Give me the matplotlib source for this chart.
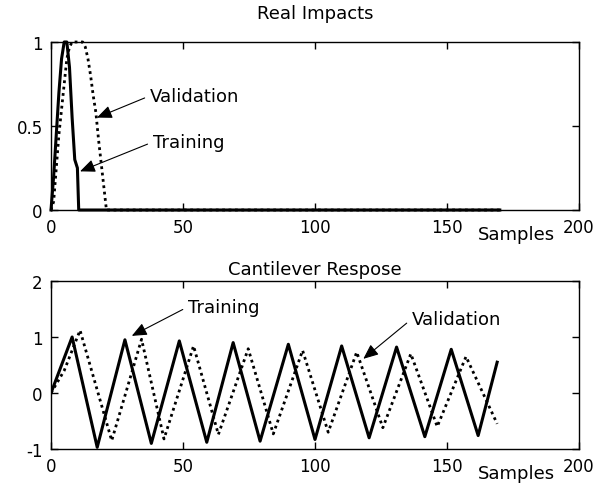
import matplotlib
matplotlib.use("Agg")
import matplotlib.pyplot as plt

plt.rcParams['font.family'] = ['DejaVu Sans']

# ---- Data ----
top_train_x = [0, 1, 2, 3, 4, 5, 6, 7, 8, 9, 10, 10.5, 170]
top_train_y = [0, 0.2, 0.45, 0.7, 0.9, 1.0, 1.0, 0.85, 0.55, 0.3, 0.25, 0, 0]

top_valid_x = [0, 1, 2, 3, 4, 5, 6, 7, 8, 12, 13, 14, 15, 16, 17, 18, 19, 20, 21, 170]
top_valid_y = [0, 0.05, 0.25, 0.45, 0.6, 0.75, 0.9, 0.97, 1.0, 1.0, 0.97, 0.9, 0.8,
               0.68, 0.58, 0.42, 0.28, 0.14, 0, 0]

bot_train_x = [0, 8, 17.5, 28, 38, 48.6, 59, 69, 79.2, 89.9, 100, 110.1, 120.5,
               130.9, 141.6, 151.6, 161.8, 169]
bot_train_y = [0, 1.0, -0.97, 0.95, -0.9, 0.93, -0.88, 0.9, -0.86, 0.87, -0.83, 0.84,
               -0.8, 0.82, -0.78, 0.78, -0.76, 0.55]

bot_valid_x = [0, 5, 11, 23, 34.3, 42.8, 54, 63.4, 74.7, 84.2, 95.3, 105, 115.8,
               125.7, 136.3, 146.3, 157.2, 169]
bot_valid_y = [0, 0.4, 1.12, -0.85, 0.96, -0.82, 0.84, -0.74, 0.79, -0.73, 0.76, -0.7,
               0.73, -0.62, 0.7, -0.6, 0.65, -0.55]

x_ticks = [0, 50, 100, 150, 200]
top_yticks = [0, 0.5, 1]
top_yticklabels = ['0', '0.5', '1']
bot_yticks = [-1, 0, 1, 2]
bot_yticklabels = ['-1', '0', '1', '2']

W, H = 599, 485
fig = plt.figure(figsize=(W / 100, H / 100), dpi=100)
fig.patch.set_facecolor('white')

def pos(l, t, r, b):
    return [l / W, 1 - b / H, (r - l) / W, (b - t) / H]

ax1 = fig.add_axes(pos(51, 43, 579, 211))
ax2 = fig.add_axes(pos(51, 282, 579, 450))

solid_kw = dict(color='black', lw=2.2, solid_joinstyle='round')
dot_kw = dict(color='black', lw=2.0, linestyle=(0, (1.0, 1.3)))

ax1.plot(top_valid_x, top_valid_y, clip_on=False, **dot_kw)
ax1.plot(top_train_x, top_train_y, clip_on=False, **solid_kw)
ax2.plot(bot_valid_x, bot_valid_y, **dot_kw)
ax2.plot(bot_train_x, bot_train_y, **solid_kw)

for ax in (ax1, ax2):
    ax.set_xlim(0, 200)
    ax.set_xticks(x_ticks)
    ax.set_xticklabels(['0', '50', '100', '150', '200'])
    ax.tick_params(direction='in', top=True, right=True, length=5, width=1,
                   labelsize=12, pad=6)
    for s in ax.spines.values():
        s.set_linewidth(1.0)
    ax.text(0.809, -0.145, 'Samples', transform=ax.transAxes, ha='left',
            va='center', fontsize=13)

ax1.set_ylim(0, 1)
ax1.set_yticks(top_yticks)
ax1.set_yticklabels(top_yticklabels)
ax2.set_ylim(-1, 2)
ax2.set_yticks(bot_yticks)
ax2.set_yticklabels(bot_yticklabels)

ax1.set_title('Real Impacts', fontsize=13, pad=17)
ax2.set_title('Cantilever Respose', fontsize=13, pad=5)

arrow = dict(arrowstyle='-|>,head_length=0.7,head_width=0.3', color='black',
             lw=0.8, relpos=(0, 0.5), shrinkA=2, shrinkB=0)

ax1.annotate('Validation', xy=(17.4, 0.55), xytext=(37.5, 0.68),
             fontsize=13, ha='left', va='center', arrowprops=arrow)
ax1.annotate('Training', xy=(11, 0.23), xytext=(38.6, 0.405),
             fontsize=13, ha='left', va='center', arrowprops=arrow)
ax2.annotate('Training', xy=(30.6, 1.02), xytext=(51.9, 1.54),
             fontsize=13, ha='left', va='center', arrowprops=arrow)
ax2.annotate('Validation', xy=(118.3, 0.61), xytext=(136.6, 1.32),
             fontsize=13, ha='left', va='center', arrowprops=arrow)

fig.savefig('out.png', dpi=100, facecolor='white')
